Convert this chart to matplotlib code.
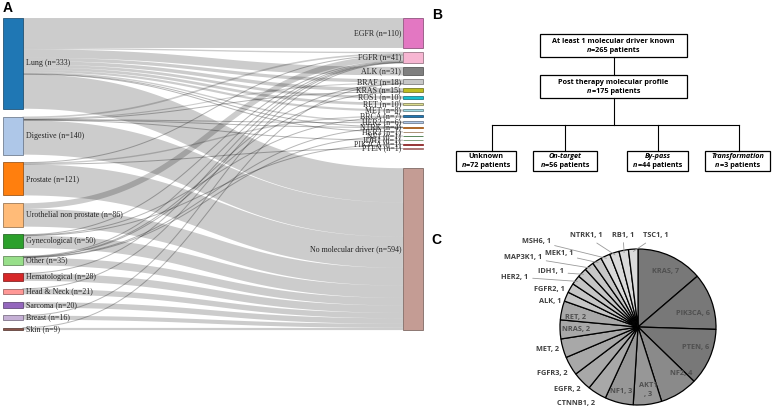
import numpy as np
import matplotlib.pyplot as plt
from matplotlib.patches import Rectangle
import matplotlib.colors as mcolors

W, H = 777, 408

# ---------------- A : sankey data ----------------
sources = ['Lung', 'Digestive', 'Prostate', 'Urothelial non prostate', 'Gynecological',
           'Other', 'Hematological', 'Head & Neck', 'Sarcoma', 'Breast', 'Skin']
targets = ['EGFR', 'FGFR', 'ALK', 'BRAF', 'KRAS', 'ROS1', 'RET', 'MET', 'BRCA', 'HER2',
           'NTRK', 'HER3', 'NF1', 'IDH1', 'PIK3CA', 'PTEN', 'No molecular driver']
# rows = sources, columns = targets
flows = np.array([
    # EGFR FGFR ALK BRAF KRAS ROS1 RET MET BRCA HER2 NTRK HER3 NF1 IDH1 PIK3CA PTEN NMD
    [110, 5, 31, 12, 13, 10, 10, 8, 0, 5, 2, 1, 0, 0, 0, 0, 126],   # Lung
    [0, 6, 0, 4, 1, 0, 0, 0, 0, 1, 1, 0, 0, 1, 0, 0, 126],          # Digestive
    [0, 1, 0, 0, 0, 0, 0, 0, 5, 0, 0, 0, 0, 0, 0, 1, 114],          # Prostate
    [0, 21, 0, 0, 0, 0, 0, 0, 0, 0, 0, 0, 0, 0, 0, 0, 65],          # Urothelial
    [0, 2, 0, 0, 0, 0, 0, 0, 2, 0, 0, 0, 0, 0, 1, 0, 45],           # Gynecological
    [0, 3, 0, 1, 1, 0, 0, 0, 0, 0, 1, 0, 1, 0, 0, 0, 28],           # Other
    [0, 1, 0, 0, 0, 0, 0, 0, 0, 0, 0, 0, 0, 0, 0, 0, 27],           # Hematological
    [0, 1, 0, 0, 0, 0, 0, 0, 0, 0, 0, 0, 0, 0, 0, 0, 20],           # Head & Neck
    [0, 0, 0, 0, 0, 0, 0, 0, 0, 0, 0, 0, 0, 0, 0, 0, 20],           # Sarcoma
    [0, 1, 0, 0, 0, 0, 0, 0, 0, 0, 0, 0, 0, 0, 0, 0, 15],           # Breast
    [0, 0, 0, 1, 0, 0, 0, 0, 0, 0, 0, 0, 0, 0, 0, 0, 8],            # Skin
])

cat20 = ['#1f77b4', '#aec7e8', '#ff7f0e', '#ffbb78', '#2ca02c', '#98df8a', '#d62728',
         '#ff9896', '#9467bd', '#c5b0d5', '#8c564b', '#c49c94', '#e377c2', '#f7b6d2',
         '#7f7f7f', '#c7c7c7', '#bcbd22', '#dbdb8d', '#17becf', '#9edae5']
src_colors = cat20[:11]
tgt_colors = ['#e377c2', '#f7b6d2', '#7f7f7f', '#c7c7c7', '#bcbd22', '#17becf', '#dbdb8d',
              '#9edae5', '#1f77b4', '#aec7e8', '#ff7f0e', '#ffbb78', '#2ca02c', '#98df8a',
              '#d62728', '#ff9896', '#c49c94']

# ---------------- B : flowchart data ----------------
top_box = ('At least 1 molecular driver known', 265)
mid_box = ('Post therapy molecular profile', 175)
groups = ['Unknown', 'On-target', 'By-pass', 'Transformation']
group_n = [72, 56, 44, 3]
group_italic = [False, True, True, True]

# ---------------- C : pie data ----------------
genes = ['KRAS', 'PIK3CA', 'PTEN', 'NF2', 'AKT1', 'NF1', 'CTNNB1', 'EGFR', 'FGFR3', 'MET',
         'NRAS', 'RET', 'ALK', 'FGFR2', 'HER2', 'IDH1', 'MAP3K1', 'MEK1', 'MSH6', 'NTRK1',
         'RB1', 'TSC1']
counts = [7, 6, 6, 4, 3, 3, 2, 2, 2, 2, 2, 2, 1, 1, 1, 1, 1, 1, 1, 1, 1, 1]
pie_colors = ['#787878'] * 3 + ['#8a8a8a'] + ['#979797'] * 2 + ['#a8a8a8'] * 6 + \
             ['#c6c6c6'] * 6 + ['#dadada'] * 4

fig = plt.figure(figsize=(W / 100, H / 100), dpi=100)
ax = fig.add_axes([0, 0, 1, 1])
ax.set_xlim(0, W)
ax.set_ylim(H, 0)
ax.axis('off')

serif = 'Liberation Serif'
sans = 'Open Sans'

# ---- sankey layout (pixel units) ----
y_top, y_bot = 18, 330
lx0, lx1 = 2.5, 22.5
rx0, rx1 = 403, 423
pad_l, pad_r = 7.8, 3.9
src_val = flows.sum(axis=1)
tgt_val = flows.sum(axis=0)
total = flows.sum()
ky = (y_bot - y_top - pad_l * (len(sources) - 1)) / total

src_y = []
y = y_top
for v in src_val:
    src_y.append(y)
    y += v * ky + pad_l
tgt_y = []
y = y_top
for v in tgt_val[:-1]:
    tgt_y.append(y)
    y += v * ky + pad_r
tgt_y.append(y_bot - tgt_val[-1] * ky)


def bezier(xa, ya, xb, yb, n=80):
    t = np.linspace(0, 1, n)
    xm = (xa + xb) / 2
    xs = (1 - t) ** 3 * xa + 3 * (1 - t) ** 2 * t * xm + 3 * (1 - t) * t ** 2 * xm + t ** 3 * xb
    ys = (1 - t) ** 3 * ya + 3 * (1 - t) ** 2 * t * ya + 3 * (1 - t) * t ** 2 * yb + t ** 3 * yb
    return xs, ys


# links
s_off = list(src_y)
t_off = list(tgt_y)
for i in range(len(sources)):
    for j in range(len(targets)):
        v = flows[i, j]
        if v == 0:
            continue
        w = v * ky
        ya = s_off[i] + w / 2
        yb = t_off[j] + w / 2
        s_off[i] += w
        t_off[j] += w
        xs, ys = bezier(lx1, ya, rx0, yb)
        a = 0.2 if w >= 1 else 0.28
        ax.plot(xs, ys, color='black', alpha=a, lw=max(w, 1) * 0.72,
                solid_capstyle='butt', zorder=1)


def darker(c, f=0.55):
    r, g, b = mcolors.to_rgb(c)
    return (r * f, g * f, b * f)


for i, name in enumerate(sources):
    h = src_val[i] * ky
    ax.add_patch(Rectangle((lx0, src_y[i]), lx1 - lx0, h, facecolor=src_colors[i],
                           edgecolor=darker(src_colors[i]), lw=0.5, zorder=2))
    ax.text(lx1 + 3, src_y[i] + h / 2, f'{name} (n={src_val[i]})', family=serif,
            fontsize=5.7, color='#222222', va='center', ha='left', zorder=3)

for j, name in enumerate(targets):
    h = tgt_val[j] * ky
    ax.add_patch(Rectangle((rx0, tgt_y[j]), rx1 - rx0, h, facecolor=tgt_colors[j],
                           edgecolor=darker(tgt_colors[j]), lw=0.5, zorder=2))
    ax.text(rx0 - 2, tgt_y[j] + h / 2, f'{name} (n={tgt_val[j]})', family=serif,
            fontsize=5.7, color='#222222', va='center', ha='right', zorder=3)

# panel letters
for letter, (lx, ly) in zip('ABC', [(8, 8), (437, 15), (436, 240)]):
    ax.text(lx, ly, letter, family='Liberation Sans', fontweight='bold', fontsize=10,
            ha='center', va='center')

# ---- B flowchart ----
renderer = fig.canvas.get_renderer()
fs_b = 5.2


def rich_line(cx, cy, parts):
    objs = []
    for s, italic in parts:
        t = ax.text(0, cy, s, family=sans, fontweight='bold', fontsize=fs_b,
                    fontstyle='italic' if italic else 'normal', ha='left', va='center')
        objs.append(t)
    widths = [t.get_window_extent(renderer).width for t in objs]
    x = cx - sum(widths) / 2
    for t, wd in zip(objs, widths):
        t.set_x(x)
        x += wd


def box(x0, x1, y0, y1):
    ax.add_patch(Rectangle((x0, y0), x1 - x0, y1 - y0, facecolor='white',
                           edgecolor='black', lw=0.9))


bx0, bx1 = 540, 687
bcx = (bx0 + bx1) / 2
box(bx0, bx1, 34, 57)
rich_line(bcx, 41.5, [(top_box[0], False)])
rich_line(bcx, 50.5, [('n', True), (f'={top_box[1]} patients', False)])
ax.plot([bcx, bcx], [57, 75], color='black', lw=0.8)
box(bx0, bx1, 75, 98)
rich_line(bcx, 82.5, [(mid_box[0], False)])
rich_line(bcx, 91.5, [('n', True), (f'={mid_box[1]} patients', False)])
ax.plot([bcx, bcx], [98, 125], color='black', lw=0.8)

g_x = [(456, 516), (533, 597), (627, 688), (705, 770)]
g_drop = [492, 565, 658, 739]
ax.plot([g_drop[0], g_drop[-1]], [125, 125], color='black', lw=0.8)
for k, name in enumerate(groups):
    ax.plot([g_drop[k], g_drop[k]], [125, 151], color='black', lw=0.8)
    x0, x1 = g_x[k]
    box(x0, x1, 151, 171)
    cx = (x0 + x1) / 2
    rich_line(cx, 156.5, [(name, group_italic[k])])
    rich_line(cx, 165.5, [('n', True), (f'={group_n[k]} patients', False)])

# ---- C pie ----
axp = fig.add_axes([0, 0, 1, 1])
axp.patch.set_alpha(0)
pcx, pcy, pr = 638, H - 327, 78
wedges, _ = axp.pie(counts, colors=pie_colors, startangle=90, counterclock=False,
                    center=(pcx, pcy), radius=pr, frame=True,
                    wedgeprops=dict(edgecolor='black', linewidth=0.9))
axp.set_xlim(0, W)
axp.set_ylim(0, H)
axp.set_aspect('auto')
axp.axis('off')

# label positions in pixels (x, y from top) and whether a leader is drawn
lab_pos = {
    'KRAS': (666, 272), 'PIK3CA': (693, 314), 'PTEN': (696, 348), 'NF2': (681, 374),
    'AKT1': (648, 390), 'NF1': (621, 392), 'CTNNB1': (576, 403), 'EGFR': (567, 389),
    'FGFR3': (552, 374), 'MET': (548, 350), 'NRAS': (576, 329), 'RET': (576, 317),
    'ALK': (550, 302), 'FGFR2': (549, 290), 'HER2': (515, 277), 'IDH1': (551, 272),
    'MAP3K1': (523, 257), 'MEK1': (559, 254), 'MSH6': (536, 241), 'NTRK1': (586, 236),
    'RB1': (623, 235), 'TSC1': (656, 236),
}
leader = ['HER2', 'IDH1', 'MAP3K1', 'MEK1', 'MSH6', 'NTRK1', 'RB1', 'TSC1']
inside = ['KRAS', 'PIK3CA', 'PTEN', 'NF2', 'AKT1', 'NF1', 'NRAS', 'RET']

for wdg, g, c in zip(wedges, genes, counts):
    px, py = lab_pos[g]
    txt = f'{g}\n, {c}' if g == 'AKT1' else f'{g}, {c}'
    col = '#505050' if g in inside else '#404040'
    if g in leader:
        ang = np.deg2rad((wdg.theta1 + wdg.theta2) / 2)
        ex = pcx + pr * 0.97 * np.cos(ang)
        ey = pcy + pr * 0.97 * np.sin(ang)
        axp.annotate(txt, xy=(ex, ey), xytext=(px, H - py), family=sans,
                     fontweight='bold', fontsize=5.3, color=col, ha='center', va='center',
                     arrowprops=dict(arrowstyle='-', color='#9a9a9a', lw=0.6,
                                     shrinkA=1, shrinkB=0))
    else:
        axp.text(px, H - py, txt, family=sans, fontweight='bold', fontsize=5.3,
                 color=col, ha='center', va='center', linespacing=1.3)

fig.savefig('out.png', dpi=100)
